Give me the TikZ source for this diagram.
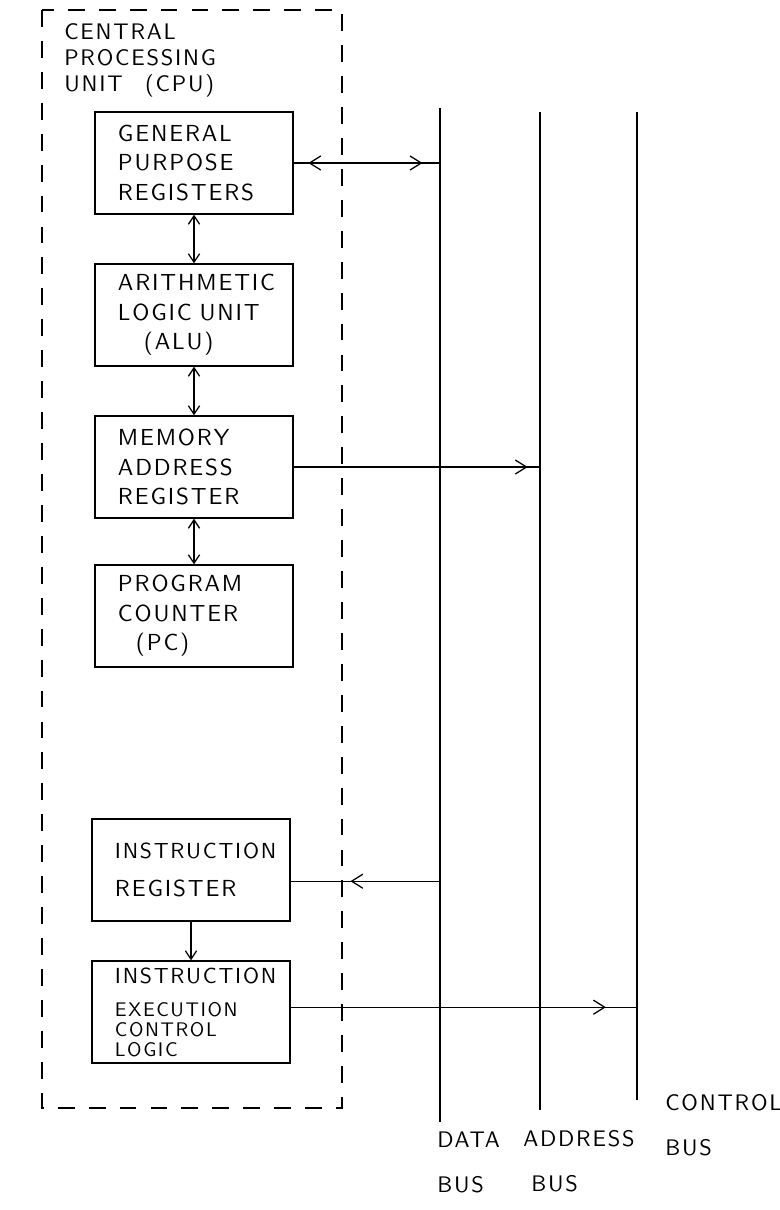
\documentclass[tikz,border=0pt]{standalone}
\usepackage{fontspec}
\usetikzlibrary{arrows.meta,decorations.markings}
\newfontfamily\handfont{lmsans10-regular.otf}[LetterSpace=8]

\tikzset{
  unitbox/.style={draw, line width=1pt, minimum width=4.95cm, minimum height=2.55cm,
    text width=3.8cm, align=left, font=\handfont\fontsize{16.5}{21}\selectfont},
  link/.style={line width=0.9pt,
    {Straight Barb[length=6pt,width=8pt]}-{Straight Barb[length=6pt,width=8pt]}},
  oneway/.style={line width=0.9pt, -{Straight Barb[length=6pt,width=8pt]}},
  busline/.style={line width=1.1pt},
  buslink/.style={line width=0.9pt, postaction={decorate},
    decoration={markings, mark=at position #1 with {\arrow{Straight Barb[length=8pt,width=10pt]}}}},
  duplex/.style={line width=0.9pt, postaction={decorate},
    decoration={markings,
      mark=at position 0.1 with {\arrowreversed{Straight Barb[length=8pt,width=10pt]}},
      mark=at position 0.88 with {\arrow{Straight Barb[length=8pt,width=10pt]}}}},
  buslabel/.style={anchor=north west, align=left, inner sep=0pt,
    font=\handfont\fontsize{16}{32}\selectfont}
}
\newcommand{\wideword}[1]{{\fontsize{15.5}{13}\selectfont #1}}

\begin{document}
\begin{tikzpicture}[x=0.025cm,y=-0.025cm]
  \useasboundingbox (0,0) rectangle (780,1210);

  % ---- CPU frame ---------------------------------------------
  \draw[line width=1pt, dash pattern=on 12pt off 10pt] (42,10) rectangle (342,1108);
  \node[anchor=north west, align=left, inner sep=0pt,
    font=\handfont\fontsize{16}{18.5}\selectfont] (cputitle) at (64,23)
    {CENTRAL\\PROCESSING\\UNIT\quad(CPU)};

  % ---- Registers and units -----------------------------------
  \node[unitbox] (gpr)  at (194,163) {GENERAL\\PURPOSE\\REGISTERS};
  \node[unitbox] (alu)  at (194,315) {ARITHMETIC\\LOGIC UNIT\\\hspace*{0.65cm}(ALU)};
  \node[unitbox] (mar)  at (194,467) {MEMORY\\ADDRESS\\REGISTER};
  \node[unitbox] (pc)   at (194,616) {PROGRAM\\COUNTER\\\hspace*{0.45cm}(PC)};
  \node[unitbox] (ir)   at (191,870) {\wideword{INSTRUCTION}\\[6pt]REGISTER};
  \node[unitbox, font=\handfont\fontsize{14}{14}\selectfont] (iecl) at (191,1012)
    {\wideword{INSTRUCTION}\\[10pt]EXECUTION\\CONTROL\\LOGIC};

  % internal paths
  \draw[link] (gpr) -- (alu);
  \draw[link] (alu) -- (mar);
  \draw[link] (mar) -- (pc);
  \draw[oneway] (ir) -- (iecl);

  % ---- Buses -------------------------------------------------
  \coordinate (dtop) at (440,108);
  \coordinate (dbot) at (440,1122);
  \coordinate (atop) at (540,112);
  \coordinate (abot) at (540,1110);
  \coordinate (ctop) at (637,112);
  \coordinate (cbot) at (637,1100);
  \draw[busline] (dtop) -- (dbot);
  \draw[busline] (atop) -- (abot);
  \draw[busline] (ctop) -- (cbot);

  \node[buslabel] (dlabel) at (437,1132) {DATA\\BUS};
  \node[buslabel] (alabel) at (523,1130) {ADDRESS\\\hspace*{0.2cm}BUS};
  \node[buslabel] (clabel) at (665,1094) {CONTROL\\BUS};

  % bus connections
  \draw[duplex] (gpr.east) -- (gpr.east -| dtop);
  \draw[buslink=0.95] (mar.east) -- (mar.east -| atop);
  \draw[buslink=0.6] ([yshift=-0.28cm]ir.east -| dtop) -- ([yshift=-0.28cm]ir.east);
  \draw[buslink=0.91] ([yshift=0.12cm]iecl.east) -- ([yshift=0.12cm]iecl.east -| ctop);

\end{tikzpicture}
\end{document}
